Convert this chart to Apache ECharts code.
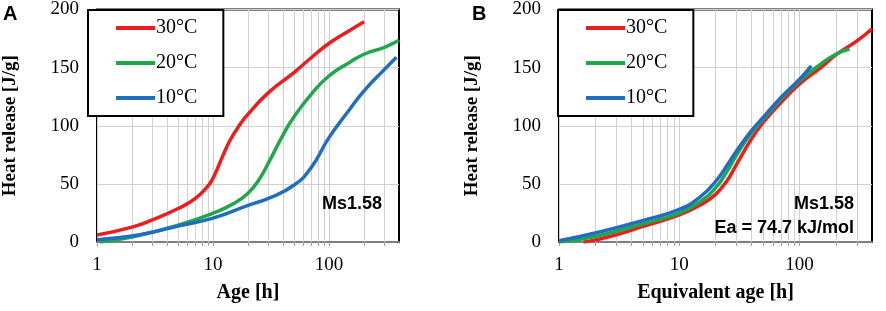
<!DOCTYPE html>
<html lang="en" style="height: 100%">
<head>
  <meta charset="utf-8">
</head>
<body style="height: 100%; margin: 0">
  <div id="container" style="width: 886px; height: 311px"></div>

  <script type="text/javascript" src="https://cdn.jsdelivr.net/npm/echarts@6/dist/echarts.min.js"></script>

  <script type="text/javascript">
    // panel A: heat release vs age [h]
    var ageA30 = [[1,6],[2,12.8],[3,19],[5,28.8],[7,37.3],[9,48],[10,55],[12,73],[14,87.5],[17,101],[20,110],[30,128.5],[50,146],[70,158.5],[100,171],[150,182],[200,189.5]];
    var ageA20 = [[1.05,0],[2,4.3],[5,14.5],[10,24.8],[15,33],[20,42],[25,54],[30,68],[40,92],[50,108],[70,127],[100,143],[150,154.5],[200,161.5],[300,167.5],[400,173.5]];
    var ageA10 = [[1,2],[2,5.2],[3,8.5],[5,13.8],[10,20.5],[20,31.5],[30,37.5],[50,49],[70,64],[100,90],[150,114],[200,130],[300,148.5],[380,159]];

    // panel B: heat release vs equivalent age [h]
    var eqB30 = [[1.6,0],[2,1.8],[3,6.2],[5,13.4],[10,23.3],[15,32],[20,41],[25,53],[30,67],[40,89],[50,103],[70,120],[100,136],[150,150],[200,161],[300,173],[400,183.5]];
    var eqB20 = [[1,0],[2,4.8],[5,15.6],[10,24.8],[15,35],[20,46.5],[25,61],[30,75],[40,94.5],[50,106],[70,123],[100,138.7],[150,153],[200,161.5],[260,166]];
    var eqB10 = [[1,1],[2,7.7],[5,18.5],[10,28],[15,39],[20,52],[25,66],[30,78.5],[40,96],[50,107.3],[70,124.4],[100,140],[125,151.5]];

    var seriesNames = ['30°C', '20°C', '10°C'];
    var seriesColors = ['#ee1c1c', '#1fa84a', '#1f6ebf'];
    var majorX = [1, 10, 100];
    var minorX = [2,3,4,5,6,7,8,9,20,30,40,50,60,70,80,90,200,300];

    var serif = 'Liberation Serif';
    var sans = 'Liberation Sans';

    var dom = document.getElementById('container');
    var myChart = echarts.init(dom, null, { renderer: 'canvas' });

    function xAx(idx, name) {
      return {
        type: 'log', logBase: 10, gridIndex: idx, min: 1, max: 400,
        name: name, nameLocation: 'middle', nameGap: 41,
        nameTextStyle: { fontFamily: serif, fontWeight: 'bold', fontSize: 20, color: '#000' },
        axisLine: { lineStyle: { color: '#808080', width: 2 } },
        axisTick: { show: true, length: 4, lineStyle: { color: '#a0a0a0' },
          customValues: majorX.concat(minorX).sort(function (a, b) { return a - b; }) },
        axisLabel: { fontFamily: serif, fontSize: 19, color: '#000', margin: 14, showMaxLabel: false },
        splitLine: { show: true, lineStyle: { color: '#d0d0d0', width: 1 } },
        minorTick: { show: false }, minorSplitLine: { show: false }
      };
    }
    function yAx(idx) {
      return {
        type: 'value', gridIndex: idx, min: 0, max: 200, interval: 50,
        name: 'Heat release [J/g]', nameLocation: 'middle', nameGap: 77,
        nameTextStyle: { fontFamily: serif, fontWeight: 'bold', fontSize: 19, color: '#000' },
        axisLine: { show: false },
        axisTick: { show: false },
        axisLabel: { fontFamily: serif, fontSize: 19, color: '#000', margin: 18 },
        splitLine: { show: true, lineStyle: { color: '#d0d0d0', width: 1 } }
      };
    }
    function legendAt(left) {
      return {
        left: left, top: 10, orient: 'vertical',
        data: seriesNames,
        icon: 'rect', itemWidth: 39, itemHeight: 4, itemGap: 15,
        padding: [8, 26, 8, 28],
        borderColor: '#000', borderWidth: 2, backgroundColor: '#fff',
        textStyle: { fontFamily: serif, fontSize: 20, color: '#000', lineHeight: 20, padding: [0, 0, 0, -4] },
        selectedMode: false
      };
    }

    var panels = [[ageA30, ageA20, ageA10], [eqB30, eqB20, eqB10]];
    var series = [];
    panels.forEach(function (set, p) {
      set.forEach(function (d, i) {
        var s = {
          name: seriesNames[i], type: 'line', data: d, xAxisIndex: p, yAxisIndex: p,
          smooth: 0.5, showSymbol: false, symbol: 'none', z: 3,
          lineStyle: { width: 3.5, color: seriesColors[i] },
          itemStyle: { color: seriesColors[i] }
        };
        if (i === 0) {
          s.markLine = {
            silent: true, symbol: 'none', z: 1, animation: false,
            label: { show: false },
            lineStyle: { color: '#d0d0d0', width: 1, type: 'solid' },
            data: minorX.map(function (v) { return { xAxis: v }; })
          };
        }
        series.push(s);
      });
    });

    var option = {
      animation: false,
      backgroundColor: '#fff',
      grid: [
        { left: 89, top: 8, width: 310, height: 234, show: true, borderColor: '#000', borderWidth: 2 },
        { left: 559, top: 8, width: 313, height: 234, show: true, borderColor: '#000', borderWidth: 2 }
      ],
      xAxis: [xAx(0, 'Age [h]'), xAx(1, 'Equivalent age [h]')],
      yAxis: [yAx(0), yAx(1)],
      legend: [legendAt(88), legendAt(558)],
      graphic: [
        { type: 'text', left: 3, top: 4, style: { text: 'A', font: 'bold 20px ' + sans, fill: '#000' } },
        { type: 'text', left: 472, top: 4, style: { text: 'B', font: 'bold 20px ' + sans, fill: '#000' } },
        { type: 'text', right: 504, top: 195, z: 10, style: { text: 'Ms1.58', font: 'bold 18px ' + sans, fill: '#000' } },
        { type: 'text', right: 32, top: 195, z: 10, style: { text: 'Ms1.58', font: 'bold 18px ' + sans, fill: '#000' } },
        { type: 'text', right: 32, top: 219, z: 10, style: { text: 'Ea = 74.7 kJ/mol', font: 'bold 18px ' + sans, fill: '#000' } }
      ],
      series: series
    };

    myChart.setOption(option);
    window.addEventListener('resize', myChart.resize);
  </script>
</body>
</html>
